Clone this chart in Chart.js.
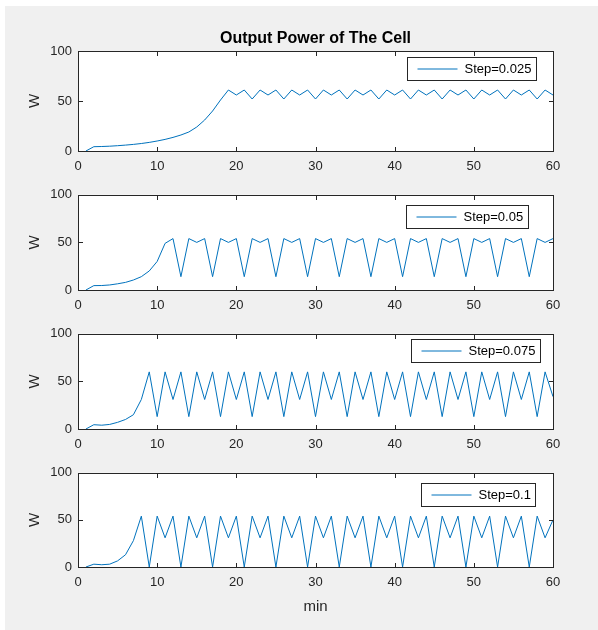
<!DOCTYPE html>
<html><head><meta charset="utf-8">
<script src="https://cdn.jsdelivr.net/npm/chart.js@4"></script>
<style>
html,body{margin:0;padding:0;background:#fff;width:598px;height:630px;overflow:hidden;}
#bg{position:absolute;left:5px;top:6px;width:593px;height:624px;background:#f0f0f0;}
canvas{position:absolute;left:0;}
</style></head><body>
<div id="bg"></div>
<canvas id="c1" width="598" height="175" style="top:6px"></canvas>
<canvas id="c2" width="598" height="139" style="top:181px"></canvas>
<canvas id="c3" width="598" height="139" style="top:320px"></canvas>
<canvas id="c4" width="598" height="160" style="top:459px"></canvas>
<script>
// ---- data ----
const minutes = [1,2,3,4,5,6,7,8,9,10,11,12,13,14,15,16,17,18,19,20,21,22,23,24,25,26,27,28,29,30,31,32,33,34,35,36,37,38,39,40,41,42,43,44,45,46,47,48,49,50,51,52,53,54,55,56,57,58,59,60];
const xTicks = [0,10,20,30,40,50,60];
const yTicks = [0,50,100];
const seriesLabels = ['Step=0.025','Step=0.05','Step=0.075','Step=0.1'];
const powerStep025 = [0,4.3,4.5,4.8,5.3,5.9,6.6,7.5,8.6,10,11.6,13.6,16,19,24,31,40,51,61,
  56,61,52,61, 56,61,52,61, 56,61,52,61, 56,61,52,61, 56,61,52,61,
  56,61,52,61, 56,61,52,61, 56,61,52,61, 56,61,52,61, 56,61,52,61, 56];
const powerStep05 = [0,4.6,4.7,5.3,6.5,8,10.5,14,20,30,49,
  54,14,54,50, 54,14,54,50, 54,14,54,50, 54,14,54,50, 54,14,54,50, 54,14,54,50,
  54,14,54,50, 54,14,54,50, 54,14,54,50, 54,14,54,50, 54,14,54,50, 54,14,54,50, 54];
const powerStep075 = [0,4.5,4,4.8,7,10,15,31,
  60,13,60,31, 60,13,60,31, 60,13,60,31, 60,13,60,31, 60,13,60,31, 60,13,60,31, 60,13,60,31,
  60,13,60,31, 60,13,60,31, 60,13,60,31, 60,13,60,31, 60,13,60,31, 60,13,60,34];
const powerStep1 = [0,3,2.4,3,6.5,13,28,54,
  0,54,31,54, 0,54,31,54, 0,54,31,54, 0,54,31,54, 0,54,31,54, 0,54,31,54, 0,54,31,54,
  0,54,31,54, 0,54,31,54, 0,54,31,54, 0,54,31,54, 0,54,31,54, 0,54,31,50];

const FONT = '"Liberation Sans", Arial, Helvetica, sans-serif';
const AXC = '#262626';
const LINEC = '#0072BD';

const matlabAxes = {
  id: 'matlabAxes',
  beforeDraw(chart) {
    const {ctx, chartArea: a} = chart;
    ctx.save();
    ctx.fillStyle = '#ffffff';
    ctx.fillRect(a.left, a.top, a.right - a.left, a.bottom - a.top);
    ctx.restore();
  },
  afterDraw(chart, args, opts) {
    const {ctx, chartArea: a, scales} = chart;
    const L = Math.round(a.left) + 0.5, R = Math.round(a.right) + 0.5;
    const T = Math.round(a.top) + 0.5, B = Math.round(a.bottom) + 0.5;
    ctx.save();
    ctx.strokeStyle = AXC;
    ctx.lineWidth = 1;
    ctx.strokeRect(L, T, R - L, B - T);
    const tl = 4.5;
    ctx.beginPath();
    xTicks.forEach(v => {
      const p = Math.round(scales.x.getPixelForValue(v)) + 0.5;
      ctx.moveTo(p, B); ctx.lineTo(p, B - tl);
      ctx.moveTo(p, T); ctx.lineTo(p, T + tl);
    });
    yTicks.forEach(v => {
      const p = Math.round(scales.y.getPixelForValue(v)) + 0.5;
      ctx.moveTo(L, p); ctx.lineTo(L + tl, p);
      ctx.moveTo(R, p); ctx.lineTo(R - tl, p);
    });
    ctx.stroke();
    // legend box
    const ds = chart.data.datasets[0];
    ctx.font = '13px ' + FONT;
    const tw = ctx.measureText(ds.label).width;
    const lx = Math.round(a.left + opts.dx) + 0.5, ly = Math.round(a.top + opts.dy) + 0.5;
    const w = Math.round(57 + tw + 5), h = 23;
    ctx.fillStyle = '#ffffff';
    ctx.fillRect(lx, ly, w, h);
    ctx.strokeStyle = AXC;
    ctx.strokeRect(lx, ly, w, h);
    ctx.strokeStyle = ds.borderColor;
    ctx.beginPath();
    ctx.moveTo(lx + 10, ly + h / 2); ctx.lineTo(lx + 50, ly + h / 2);
    ctx.stroke();
    ctx.fillStyle = '#000000';
    ctx.textBaseline = 'middle';
    ctx.textAlign = 'left';
    ctx.fillText(ds.label, lx + 57, ly + h / 2 + 0.5);
    ctx.restore();
  }
};

function makeChart(id, values, label, cfg) {
  return new Chart(document.getElementById(id), {
    type: 'line',
    data: {
      datasets: [{
        label: label,
        data: minutes.map((m, i) => ({x: m, y: values[i]})),
        borderColor: LINEC, borderWidth: 1, pointRadius: 0, tension: 0, fill: false
      }]
    },
    options: {
      responsive: false, animation: false, devicePixelRatio: 1,
      layout: {padding: {left: 0, right: 45, top: cfg.padTop, bottom: 0}},
      plugins: {
        legend: {display: false},
        tooltip: {enabled: false},
        title: cfg.title ? {
          display: true, text: cfg.title, fullSize: false, color: '#000',
          font: {family: FONT, size: 16, weight: 'bold'},
          padding: {top: 22.9, bottom: 2.9}
        } : {display: false},
        matlabAxes: {dx: cfg.legDx, dy: cfg.legDy}
      },
      scales: {
        x: {
          type: 'linear', min: 0, max: 60,
          afterBuildTicks(s) { s.ticks = xTicks.map(v => ({value: v})); },
          ticks: {color: AXC, font: {family: FONT, size: 13}, padding: 8, maxRotation: 0, autoSkip: false},
          grid: {display: false, drawTicks: false},
          border: {display: false},
          afterFit(s) { s.height = cfg.xH; },
          title: cfg.xTitle ? {display: true, text: cfg.xTitle, color: AXC,
            font: {family: FONT, size: 15}, padding: {top: 0, bottom: 3}} : {display: false}
        },
        y: {
          type: 'linear', min: 0, max: 100,
          afterBuildTicks(s) { s.ticks = yTicks.map(v => ({value: v})); },
          ticks: {color: AXC, font: {family: FONT, size: 13}, padding: 6},
          grid: {display: false, drawTicks: false},
          border: {display: false},
          afterFit(s) { s.width = 78; },
          title: {display: true, text: 'W', color: AXC, font: {family: FONT, size: 15}, padding: {top: 26, bottom: 0}}
        }
      }
    },
    plugins: [matlabAxes]
  });
}

makeChart('c1', powerStep025, seriesLabels[0], {padTop: 0, xH: 30, title: 'Output Power of The Cell', legDx: 329, legDy: 6});
makeChart('c2', powerStep05, seriesLabels[1], {padTop: 10, xH: 30, legDx: 328, legDy: 10});
makeChart('c3', powerStep075, seriesLabels[2], {padTop: 11, xH: 30, legDx: 333, legDy: 5});
makeChart('c4', powerStep1, seriesLabels[3], {padTop: 11, xH: 52, xTitle: 'min', legDx: 343, legDy: 10});
</script>
</body></html>
